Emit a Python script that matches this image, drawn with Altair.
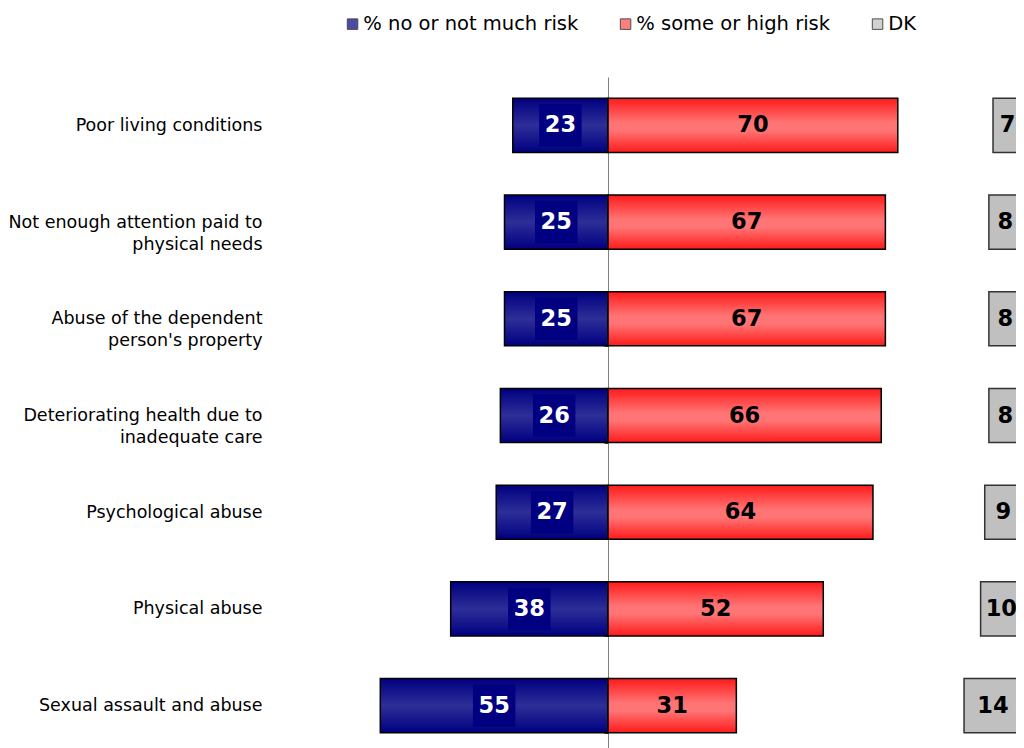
import altair as alt
import pandas as pd

categories = [
    "Poor living conditions",
    "Not enough attention paid to|physical needs",
    "Abuse of the dependent|person's property",
    "Deteriorating health due to|inadequate care",
    "Psychological abuse",
    "Physical abuse",
    "Sexual assault and abuse",
]
no_risk = [23, 25, 25, 26, 27, 38, 55]
some_risk = [70, 67, 67, 66, 64, 52, 31]
dk = [7, 8, 8, 8, 9, 10, 14]

legend_labels = ["% no or not much risk", "% some or high risk", "DK"]
series_colors = ["#000080", "#ff4a4a", "#c0c0c0"]

df = pd.DataFrame({"cat": categories, "no": no_risk, "some": some_risk, "dk": dk})
df["zero"] = 0
df["no_neg"] = -df["no"]
df["no_mid"] = -df["no"] / 2
df["some_mid"] = df["some"] / 2
df["total"] = df["no"] + df["some"] + df["dk"]
df["dk_start"] = df["total"] - df["dk"]
df["dk_mid"] = df["total"] - df["dk"] / 2

FONT = "DejaVu Sans"

xscale = alt.Scale(domain=[-80, 100], range=[0, 745.2], nice=False, zero=False)
yscale = alt.Scale(domain=categories, paddingInner=0.44, paddingOuter=0.22, range=[0, 677])

yaxis = alt.Axis(
    offset=-331.2, domain=True, domainColor="#808080", domainWidth=1,
    ticks=True, tickSize=4, tickColor="#404040", tickBand="extent",
    labelPadding=342, labelExpr="split(datum.label, '|')",
    labelFont=FONT, labelFontSize=17.5, labelColor="#000000", labelLimit=400,
    labelLineHeight=22, title=None, grid=False,
)

base = alt.Chart(df).encode(y=alt.Y("cat:N", scale=yscale, axis=yaxis, title=None))

blue_grad = {
    "gradient": "linear", "x1": 0, "y1": 0, "x2": 0, "y2": 1,
    "stops": [
        {"offset": 0, "color": "#000080"},
        {"offset": 0.5, "color": "#2e2e98"},
        {"offset": 1, "color": "#000080"},
    ],
}
red_grad = {
    "gradient": "linear", "x1": 0, "y1": 0, "x2": 0, "y2": 1,
    "stops": [
        {"offset": 0, "color": "#ff1a1a"},
        {"offset": 0.45, "color": "#ff7474"},
        {"offset": 0.6, "color": "#ff7474"},
        {"offset": 1, "color": "#ff1a1a"},
    ],
}

blue = base.mark_bar(fill=blue_grad, stroke="#000000", strokeWidth=1.5).encode(
    x=alt.X("no_neg:Q", scale=xscale, axis=None), x2="zero"
)
red = base.mark_bar(fill=red_grad, stroke="#000000", strokeWidth=1.5).encode(
    x=alt.X("zero:Q", scale=xscale, axis=None), x2="some"
)
gray = base.mark_bar(fill="#c0c0c0", stroke="#333333", strokeWidth=1.5).encode(
    x=alt.X("dk_start:Q", scale=xscale, axis=None), x2="total"
)
blue_box = base.mark_square(size=1800, color="#000080", opacity=1).encode(
    x=alt.X("no_mid:Q", scale=xscale, axis=None)
)
blue_txt = base.mark_text(font=FONT, fontSize=22.5, fontWeight="bold", color="#ffffff", baseline="middle").encode(
    x=alt.X("no_mid:Q", scale=xscale, axis=None), text="no:Q"
)
red_txt = base.mark_text(font=FONT, fontSize=22.5, fontWeight="bold", color="#000000", baseline="middle").encode(
    x=alt.X("some_mid:Q", scale=xscale, axis=None), text="some:Q"
)
dk_txt = base.mark_text(font=FONT, fontSize=22.5, fontWeight="bold", color="#000000", baseline="middle").encode(
    x=alt.X("dk_mid:Q", scale=xscale, axis=None), text="dk:Q"
)

legend_layer = alt.Chart(pd.DataFrame({"series": legend_labels})).mark_square(size=0).encode(
    color=alt.Color(
        "series:N",
        scale=alt.Scale(domain=legend_labels, range=series_colors),
        legend=alt.Legend(
            orient="none", legendX=66, legendY=-63, direction="horizontal", title=None,
            symbolType="square", symbolSize=110, symbolStrokeColor="#000000",
            symbolStrokeWidth=1, labelFont=FONT, labelFontSize=19.5, labelColor="#000000",
            columnPadding=37, labelOffset=1, padding=0, labelLimit=400,
        ),
    )
)

chart = alt.layer(blue, red, gray, blue_box, blue_txt, red_txt, dk_txt, legend_layer).properties(
    width=739.2, height=671,
    autosize=alt.AutoSizeParams(type="none"),
    padding={"left": 268.8, "top": 69, "right": 0, "bottom": 0},
).configure_view(stroke=None)

chart.save("out.html", embed_options={"renderer": "svg", "actions": False})
